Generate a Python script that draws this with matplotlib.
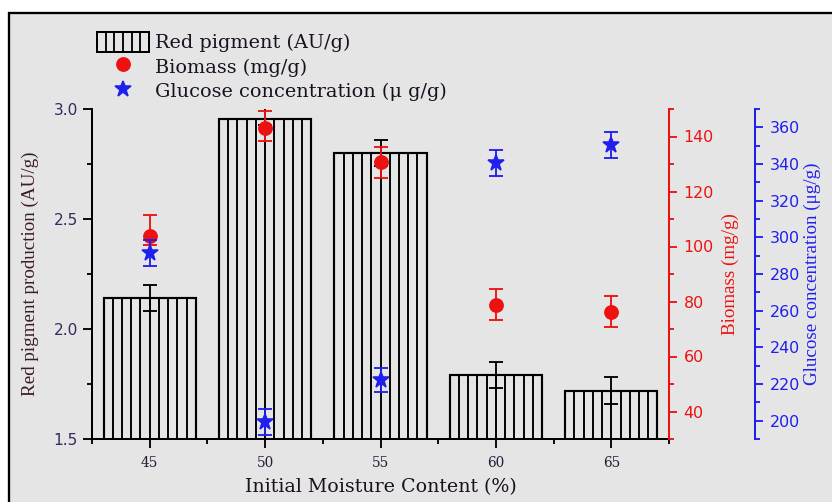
import matplotlib
matplotlib.use("Agg")
import matplotlib.pyplot as plt
from matplotlib.patches import Rectangle, Patch
from matplotlib.lines import Line2D
from matplotlib.ticker import MultipleLocator, AutoMinorLocator, FormatStrFormatter

# Initial moisture content (%) of the substrate
moisture = [45, 50, 55, 60, 65]

# Red pigment production (AU/g) with lower/upper error
pigment = [2.14, 2.955, 2.80, 1.79, 1.72]
pigment_err_lo = [0.06, 0.03, 0.06, 0.06, 0.06]
pigment_err_hi = [0.06, 0.085, 0.06, 0.06, 0.06]

# Biomass (mg/g) with lower/upper error
biomass = [103.9, 143.0, 130.6, 78.7, 76.3]
biomass_err_lo = [3.4, 4.6, 5.6, 5.5, 5.5]
biomass_err_hi = [7.6, 6.3, 5.5, 5.8, 5.7]

# Glucose concentration (ug/g) with error
glucose = [291.3, 199.3, 222.2, 340.4, 350.2]
glucose_err = [7.0, 7.2, 6.5, 7.0, 7.0]

RED = "#ee1111"
BLUE = "#1f1fee"
BG = "#e5e5e5"
DARK = "#2a1a36"
BAR_WIDTH = 4
STRIPES = 10
LEGEND_STRIPES = 6


class StripedBoxHandler:
    """Legend key: an outlined box filled with evenly spaced vertical lines."""

    def legend_artist(self, legend, orig_handle, fontsize, handlebox):
        x0, y0 = -handlebox.xdescent, -handlebox.ydescent
        w, h = handlebox.width, handlebox.height
        tr = handlebox.get_transform()
        box = Rectangle((x0, y0), w, h, facecolor="none", edgecolor="black",
                        linewidth=1.3, transform=tr)
        handlebox.add_artist(box)
        for k in range(1, LEGEND_STRIPES):
            xk = x0 + w * k / LEGEND_STRIPES
            handlebox.add_artist(Line2D([xk, xk], [y0, y0 + h], color="black",
                                        linewidth=1.2, transform=tr))
        return box


DPI = 111
W, H = 832, 502
fig = plt.figure(figsize=(W / DPI, H / DPI), dpi=DPI, facecolor="white")

# grey panel with a dark frame on the top and left edges
fig.patches.append(Rectangle((9 / W, -0.05), 1.2, 1 - 13 / H + 0.05,
                             transform=fig.transFigure, facecolor=BG,
                             edgecolor="black", linewidth=1.5, zorder=-10))

ax = fig.add_axes([92 / W, 1 - 439 / H, (669 - 92) / W, (439 - 109) / H])
ax.set_facecolor("none")

ax.bar(moisture, pigment, width=BAR_WIDTH, facecolor="none", edgecolor="black",
       linewidth=1.4, zorder=2)
# vertical stripe fill inside each bar
for xc, h in zip(moisture, pigment):
    left = xc - BAR_WIDTH / 2
    xs = [left + BAR_WIDTH * k / STRIPES for k in range(1, STRIPES)]
    ax.vlines(xs, 0, h, color="black", linewidth=1.25, zorder=2)
ax.errorbar(moisture, pigment, yerr=[pigment_err_lo, pigment_err_hi], fmt="none",
            ecolor="black", elinewidth=1.2, capsize=4.5, capthick=1.2, zorder=3)

ax.set_xlim(42.5, 67.5)
ax.set_ylim(1.5, 3.0)
ax.xaxis.set_major_locator(MultipleLocator(5))
ax.xaxis.set_minor_locator(AutoMinorLocator(2))
ax.yaxis.set_major_locator(MultipleLocator(0.5))
ax.yaxis.set_minor_locator(AutoMinorLocator(2))
ax.yaxis.set_major_formatter(FormatStrFormatter("%.1f"))
for s in ("top", "right"):
    ax.spines[s].set_visible(False)
for s in ("left", "bottom"):
    ax.spines[s].set_linewidth(1.3)
ax.tick_params(axis="both", which="major", direction="out", length=6, width=1.2)
ax.tick_params(axis="both", which="minor", direction="out", length=3, width=1.2)
ax.tick_params(axis="y", which="major", pad=3, labelsize=10, labelcolor="#3a2660")
ax.tick_params(axis="x", which="major", pad=5, labelsize=8.8, labelcolor=DARK)
for lab in ax.get_xticklabels():
    lab.set_family("DejaVu Serif")

ax.set_xlabel("Initial Moisture Content (%)", family="DejaVu Serif", fontsize=12.3,
              color="#1a1020")
ax.xaxis.label.set(va="center")
ax.xaxis.set_label_coords(0.5, -(487 - 439) / 330)
ax.set_ylabel("Red pigment production (AU/g)", family="Liberation Serif",
              fontsize=12.3, color="#3a1a28")
ax.yaxis.label.set(va="center")
ax.yaxis.set_label_coords((30 - 92) / 577, 0.5)

# biomass axis (red)
axb = ax.twinx()
axb.errorbar(moisture, biomass, yerr=[biomass_err_lo, biomass_err_hi], fmt="o",
             color=RED, ms=8.6, ecolor=RED, elinewidth=1.2, capsize=4.5,
             capthick=1.2, zorder=4)
axb.set_ylim(30, 150)
axb.yaxis.set_major_locator(MultipleLocator(20))
axb.yaxis.set_minor_locator(AutoMinorLocator(2))
for s in ("top", "left", "bottom"):
    axb.spines[s].set_visible(False)
axb.spines["right"].set_color(RED)
axb.spines["right"].set_linewidth(1.3)
axb.tick_params(axis="y", which="major", direction="out", length=5.5, width=1.2,
                color=RED, labelcolor=RED, labelsize=10.3, pad=4)
axb.tick_params(axis="y", which="minor", direction="out", length=3, width=1.2, color=RED)
axb.set_ylabel("Biomass (mg/g)", family="Liberation Serif", fontsize=12.3, color=RED)
axb.yaxis.label.set(va="center")
axb.yaxis.set_label_coords((730 - 92) / 577, 0.5)

# glucose axis (blue)
axg = ax.twinx()
axg.errorbar(moisture, glucose, yerr=glucose_err, fmt="*", color=BLUE, ms=11,
             ecolor=BLUE, elinewidth=1.2, capsize=4.5, capthick=1.2, zorder=4)
axg.set_ylim(190, 370)
axg.yaxis.set_major_locator(MultipleLocator(20))
axg.yaxis.set_minor_locator(AutoMinorLocator(2))
for s in ("top", "left", "bottom"):
    axg.spines[s].set_visible(False)
axg.spines["right"].set_position(("axes", (755 - 92) / 577))
axg.spines["right"].set_color(BLUE)
axg.spines["right"].set_linewidth(1.3)
axg.tick_params(axis="y", which="major", direction="out", length=5.5, width=1.2,
                color=BLUE, labelcolor=BLUE, labelsize=10.3, pad=4)
axg.tick_params(axis="y", which="minor", direction="out", length=3, width=1.2, color=BLUE)
axg.set_ylabel("Glucose concentration (\u03bcg/g)", family="Liberation Serif",
               fontsize=12.3, color=BLUE)
axg.yaxis.label.set(va="center")
axg.yaxis.set_label_coords((812 - 92) / 577, 0.5)

bar_key = Patch(facecolor="none", edgecolor="black")
handles = [
    bar_key,
    Line2D([], [], marker="o", color=RED, ls="none", ms=8.6),
    Line2D([], [], marker="*", color=BLUE, ls="none", ms=11),
]
labels = ["Red pigment (AU/g)", "Biomass (mg/g)", "Glucose concentration (\u03bc g/g)"]
leg = fig.legend(handles, labels, loc="upper left", bbox_to_anchor=(97 / W, 1 - 32 / H),
                 frameon=False, borderpad=0, borderaxespad=0, handlelength=2.7,
                 handleheight=1.2, handletextpad=0.3, labelspacing=0.2,
                 handler_map={bar_key: StripedBoxHandler()},
                 prop={"family": "DejaVu Serif", "size": 12.5})
for t in leg.get_texts():
    t.set_color("#1a1020")

fig.savefig("out.png", dpi=DPI, facecolor=fig.get_facecolor())
